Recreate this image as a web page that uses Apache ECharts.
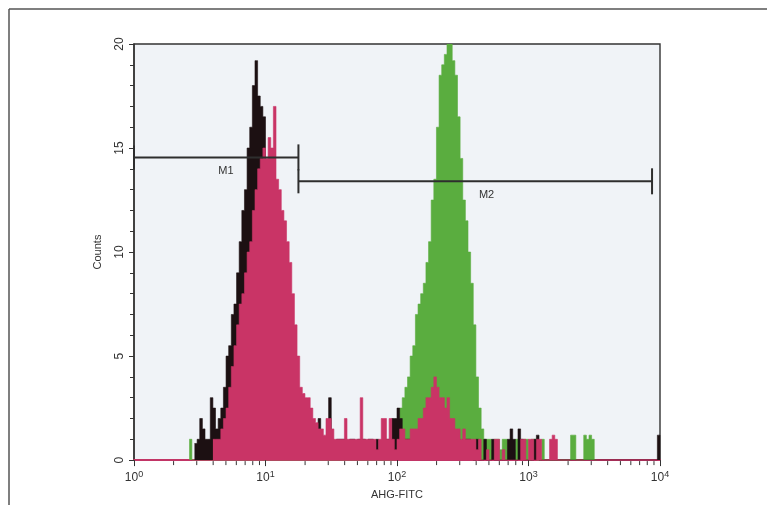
<!DOCTYPE html>
<html><head><meta charset="utf-8">
<script src="https://cdn.jsdelivr.net/npm/echarts@6/dist/echarts.min.js"></script>
<style>html,body{margin:0;padding:0;background:#fff}#c{width:767px;height:505px}</style>
</head><body><div id="c"></div><script>
// channel bins: each bin spans BIN decades on the log axis
const BIN = 0.02;
const xTickValues = [1, 10, 100, 1000, 10000];
const minorMantissas = [2, 3, 4, 5, 6, 7, 8, 9];
const minorDecades = [1, 10, 100, 1000];

const blackStart = 23;
const blackCounts = [0.8,1,2,1.5,1,1,3,2.5,1.5,2,2.5,3.5,5,5.5,7,7.5,9,10.5,12,13,15,16,18,19.2,17.5,17,16.5,14,12,10,8.5,7,6,5,4.5,4,3.5,3,2.5,2,2,1.5,1.5,1,1.5,1,1,2,1,1,1,3,1,0.5,1,1,1,1,0.5,1,1,0.5,1,1,1,0.5,1,1,0.5,1,0.5,0.5,1,1,1,2,2,2.5,2,1,1,1,0.5,1,1,1,0.5,1,1,1,1,0.5,1,1,1,1,0.5,1,1,1,1,0.5,1,1,1,0.5,0,1,0,0,1,0,0,1,0,0,0,0,0,1,1.5,1,0,1.5,1,0,0,0,0,1,1.2,0];
const blackEdgeStart = 199;
const blackEdgeCounts = [1.2];

const pinkStart = 30;
const pinkCounts = [1,1,1,1.5,2,2.5,3.5,4.5,5.5,6.5,7.5,8,9,10,10.5,12,13,14,14.5,15,14.5,15.5,15,17,13.5,13,12,11.5,10.5,9.5,8,6.5,5,3.5,3.2,3,3,2.5,2,1.8,1.5,1.5,1.2,2,2,1.5,1,1,1,1,2,1,1,1,1,1,3,1,1,1,1,1,0.5,1,2,2,1,2,1,0.5,1,1.5,1.5,1,1,1.5,1.5,1.5,2,2,2.5,3,3,3.5,4,3.5,3,3,2.5,3,2,2,1.5,1.5,1,1.5,1,1,1,1,0.5,1,0,0,0.5,0,0,1,1,0,0.5,0,0,0,0,0,0,1,1,0,1,1,0,1,1,0,0,0,1,1.2,1,0];

const greenStrayStart = 21;
const greenStrayCounts = [1];
const greenStart = 99;
const greenCounts = [0.5,1.7,2.5,3,3.5,4,5,5.5,7,7.5,8,8.5,9.5,10.5,12.5,13.5,16,18.5,19,19.5,20,20,19.2,18.5,16.5,14.5,12.5,11.5,10,8.5,6.5,4,2.5,1.5,1,1,1,0.5,1,1,0.5,1,1,0.5,1,0.5,1,1,0.5,1,1,0,1,1,0,0,1,0,0,0,0,0,0,0,0,0,0,1.2,1.2,0,0,0,1.2,1,1.2,1,0];

const markerNames = ['M1', 'M2'];
const markerFrom = [1, 17.8];
const markerTo = [17.8, 8700];
const markerLevel = [14.55, 13.4];
const markerLabelAt = [5.0, 480];

function runsToPoints(runs) {
  const pts = [];
  runs.forEach(function (r) {
    const start = r[0], counts = r[1];
    for (let i = 0; i < counts.length; i++) {
      pts.push([Math.pow(10, (start + i) * BIN), counts[i]]);
    }
    pts.push([Math.pow(10, (start + counts.length) * BIN), 0]);
  });
  return pts;
}

const minorTicks = [];
minorDecades.forEach(function (d) { minorMantissas.forEach(function (m) { minorTicks.push(m * d); }); });

const FONT = 'Liberation Sans, Arial, sans-serif';
const TXT = '#333333';

function histSeries(name, runs, color, z) {
  return {
    name: name, type: 'line', step: 'end', showSymbol: false, symbol: 'none',
    data: runsToPoints(runs), z: z, silent: true, animation: false,
    lineStyle: { width: 0.6, color: color },
    itemStyle: { color: color },
    areaStyle: { color: color, opacity: 1 }
  };
}

const chart = echarts.init(document.getElementById('c'), null, { renderer: 'canvas' });
chart.setOption({
  animation: false,
  backgroundColor: '#ffffff',
  graphic: [
    { type: 'line', shape: { x1: 9, y1: 9, x2: 767, y2: 9 }, style: { stroke: '#555', lineWidth: 1.5 } },
    { type: 'line', shape: { x1: 9, y1: 9, x2: 9, y2: 505 }, style: { stroke: '#555', lineWidth: 1.5 } }
  ],
  grid: { left: 134, right: 107, top: 44, bottom: 43, show: true, backgroundColor: '#f0f3f7', borderColor: '#333', borderWidth: 1.4 },
  xAxis: {
    type: 'log', min: 1, max: 10000, logBase: 10,
    name: 'AHG-FITC', nameLocation: 'middle', nameGap: 24,
    nameTextStyle: { fontFamily: FONT, fontSize: 11, color: TXT },
    axisLine: { show: true, onZero: false, lineStyle: { color: '#c23566', width: 2 } },
    axisTick: { show: true, inside: false, length: 6, lineStyle: { color: '#333', width: 1 } },
    minorTick: { show: false },
    splitLine: { show: false },
    axisLabel: {
      margin: 10, fontFamily: FONT, color: TXT,
      formatter: function (v) { return '{b|10}{s|' + Math.round(Math.log10(v)) + '}'; },
      rich: { b: { fontSize: 12, fontFamily: FONT, color: TXT }, s: { fontSize: 9, fontFamily: FONT, color: TXT, verticalAlign: 'top', padding: [0, 0, 7, 0] } }
    }
  },
  yAxis: {
    type: 'value', min: 0, max: 20, interval: 5,
    name: 'Counts', nameLocation: 'middle', nameGap: 31, nameRotate: 90,
    nameTextStyle: { fontFamily: FONT, fontSize: 11, color: TXT },
    axisLine: { show: true, lineStyle: { color: '#333', width: 1.5 } },
    axisTick: { show: true, inside: false, length: 5, lineStyle: { color: '#333' } },
    minorTick: { show: true, splitNumber: 5, length: 4, lineStyle: { color: '#333' } },
    splitLine: { show: false },
    axisLabel: { rotate: 90, margin: 8, fontFamily: FONT, fontSize: 12, color: TXT }
  },
  series: [
    histSeries('green', [[greenStrayStart, greenStrayCounts], [greenStart, greenCounts]], '#5aad3f', 2),
    histSeries('black', [[blackStart, blackCounts], [blackEdgeStart, blackEdgeCounts]], '#1c1012', 3),
    histSeries('pink', [[pinkStart, pinkCounts]], '#c93466', 4),
    {
      type: 'custom', silent: true, clip: false, z: 6,
      data: minorTicks,
      renderItem: function (params, api) {
        const p = api.coord([api.value(0), 0]);
        return { type: 'line', shape: { x1: p[0], y1: p[1] + 1, x2: p[0], y2: p[1] + 5 }, style: { stroke: '#333', lineWidth: 1 } };
      },
      encode: { x: 0 }
    },
    {
      type: 'custom', silent: true, clip: false, z: 8,
      data: markerNames.map(function (n, i) { return [markerFrom[i], markerTo[i], markerLevel[i], markerLabelAt[i], i]; }),
      renderItem: function (params, api) {
        const a = api.coord([api.value(0), api.value(2)]);
        const b = api.coord([api.value(1), api.value(2)]);
        const t = api.coord([api.value(3), api.value(2)]);
        const name = markerNames[api.value(4)];
        const st = { stroke: '#2e2e2e', lineWidth: 2 };
        return { type: 'group', children: [
          { type: 'line', shape: { x1: a[0], y1: a[1], x2: b[0], y2: b[1] }, style: st },
          { type: 'line', shape: { x1: a[0], y1: a[1] - 12, x2: a[0], y2: a[1] + 12 }, style: st },
          { type: 'line', shape: { x1: b[0], y1: b[1] - 13, x2: b[0], y2: b[1] + 13 }, style: st },
          { type: 'text', style: { x: t[0], y: t[1] + 8, text: name, fill: TXT, font: '11px ' + FONT, textAlign: 'center', textVerticalAlign: 'top' } }
        ] };
      },
      encode: { x: [0, 1], y: 2 }
    }
  ]
});
</script></body></html>
